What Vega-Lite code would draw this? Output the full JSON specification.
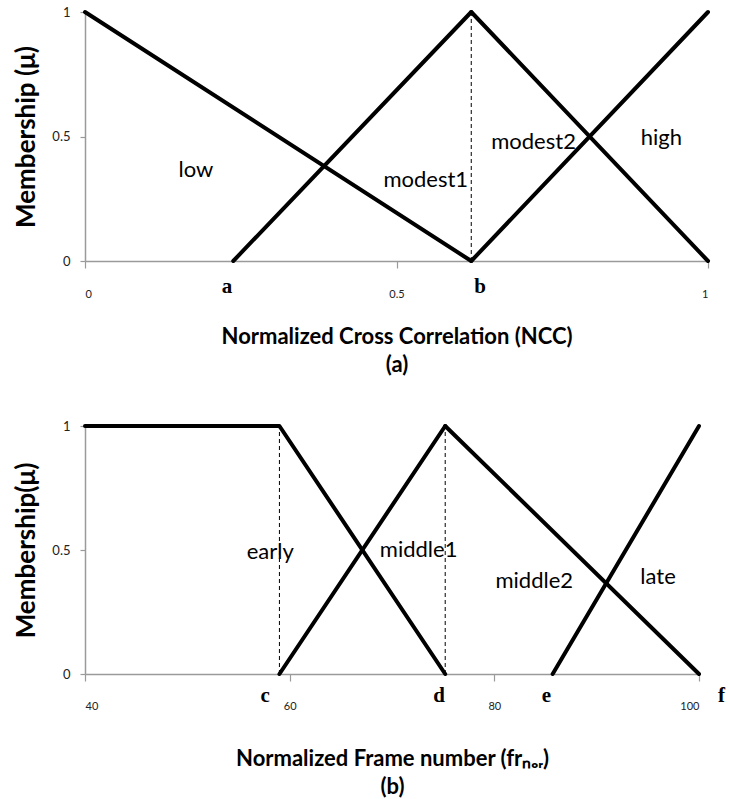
{
  "$schema": "https://vega.github.io/schema/vega-lite/v6.json",
  "background": "white",
  "padding": {"left": 13, "top": 6, "right": 5, "bottom": 5},
  "spacing": 45,
  "config": {
    "view": {"stroke": null},
    "font": "Lato",
    "axis": {
      "grid": false,
      "domainColor": "#9a9a9a",
      "domainWidth": 1.5,
      "tickColor": "#9a9a9a",
      "tickWidth": 1.2,
      "labelFont": "Lato",
      "labelFontSize": 12,
      "labelColor": "#222",
      "titleFont": "Lato",
      "titleFontSize": 22,
      "titleFontWeight": "bold",
      "titleColor": "#000"
    }
  },
  "datasets": {
    "linesA": [
      {"series": "low", "x": 0, "y": 1},
      {"series": "low", "x": 0.62, "y": 0},
      {"series": "modest1", "x": 0.238, "y": 0},
      {"series": "modest1", "x": 0.62, "y": 1},
      {"series": "modest2", "x": 0.62, "y": 1},
      {"series": "modest2", "x": 1, "y": 0},
      {"series": "high", "x": 0.62, "y": 0},
      {"series": "high", "x": 1, "y": 1}
    ],
    "dashA": [{"x": 0.62, "y0": 0, "y1": 1}],
    "labelsA": [
      {"name": "low", "x": 0.178, "y": 0.365},
      {"name": "modest1", "x": 0.547, "y": 0.325},
      {"name": "modest2", "x": 0.72, "y": 0.478},
      {"name": "high", "x": 0.925, "y": 0.494}
    ],
    "lettersA": [
      {"letter": "a", "x": 0.228, "y": 0},
      {"letter": "b", "x": 0.634, "y": 0}
    ],
    "linesB": [
      {"series": "early", "x": 40, "y": 1},
      {"series": "early", "x": 59, "y": 1},
      {"series": "early", "x": 75.2, "y": 0},
      {"series": "middle1", "x": 59, "y": 0},
      {"series": "middle1", "x": 75.2, "y": 1},
      {"series": "middle2", "x": 75.2, "y": 1},
      {"series": "middle2", "x": 100, "y": 0},
      {"series": "late", "x": 85.7, "y": 0},
      {"series": "late", "x": 100, "y": 1}
    ],
    "dashB": [
      {"x": 59, "y0": 0, "y1": 1},
      {"x": 75.2, "y0": 0, "y1": 1}
    ],
    "labelsB": [
      {"name": "early", "x": 58.1, "y": 0.49},
      {"name": "middle1", "x": 72.6, "y": 0.5},
      {"name": "middle2", "x": 83.9, "y": 0.375},
      {"name": "late", "x": 96.0, "y": 0.39}
    ],
    "lettersB": [
      {"letter": "c", "x": 57.6, "y": 0},
      {"letter": "d", "x": 74.6, "y": 0},
      {"letter": "e", "x": 85.1, "y": 0},
      {"letter": "f", "x": 102.2, "y": 0}
    ]
  },
  "vconcat": [
    {
      "width": 623,
      "height": 249,
      "layer": [
        {
          "data": {"name": "dashA"},
          "mark": {"type": "rule", "strokeDash": [4, 3], "strokeWidth": 1, "color": "#000"},
          "encoding": {
            "x": {"field": "x", "type": "quantitative"},
            "y": {"field": "y0", "type": "quantitative"},
            "y2": {"field": "y1"}
          }
        },
        {
          "data": {"name": "linesA"},
          "mark": {"type": "line", "color": "#000", "strokeWidth": 4, "strokeCap": "round", "strokeJoin": "round"},
          "encoding": {
            "x": {
              "field": "x", "type": "quantitative",
              "scale": {"domain": [0, 1], "nice": false, "zero": false},
              "axis": {
                "values": [0, 0.5, 1],
                "format": "~g",
                "tickSize": 7,
                "labelPadding": 20,
                "labelFontSize": 11,
                "title": ["Normalized Cross Correlation (NCC)", "(a)"],
                "titleLineHeight": 28,
                "titlePadding": 27
              }
            },
            "y": {
              "field": "y", "type": "quantitative",
              "scale": {"domain": [0, 1], "nice": false},
              "axis": {
                "values": [0, 0.5, 1],
                "format": "~g",
                "tickSize": 5,
                "labelPadding": 10,
                "labelFontSize": 13,
                "title": "Membership (μ)",
                "titleFontSize": 26,
                "titlePadding": 12
              }
            },
            "detail": {"field": "series"}
          }
        },
        {
          "data": {"name": "labelsA"},
          "mark": {"type": "text", "fontSize": 22, "font": "Lato", "color": "#000"},
          "encoding": {
            "x": {"field": "x", "type": "quantitative"},
            "y": {"field": "y", "type": "quantitative"},
            "text": {"field": "name"}
          }
        },
        {
          "data": {"name": "lettersA"},
          "mark": {"type": "text", "fontSize": 21, "font": "Liberation Serif", "fontWeight": "bold", "color": "#000", "dy": 26, "baseline": "middle", "clip": false},
          "encoding": {
            "x": {"field": "x", "type": "quantitative"},
            "y": {"field": "y", "type": "quantitative"},
            "text": {"field": "letter"}
          }
        }
      ]
    },
    {
      "width": 614,
      "height": 248,
      "layer": [
        {
          "data": {"name": "dashB"},
          "mark": {"type": "rule", "strokeDash": [4, 3], "strokeWidth": 1, "color": "#000"},
          "encoding": {
            "x": {"field": "x", "type": "quantitative"},
            "y": {"field": "y0", "type": "quantitative"},
            "y2": {"field": "y1"}
          }
        },
        {
          "data": {"name": "linesB"},
          "mark": {"type": "line", "color": "#000", "strokeWidth": 4, "strokeCap": "round", "strokeJoin": "round"},
          "encoding": {
            "x": {
              "field": "x", "type": "quantitative",
              "scale": {"domain": [40, 100], "nice": false, "zero": false},
              "axis": {
                "values": [40, 60, 80, 100],
                "tickSize": 7,
                "labelPadding": 19,
                "labelFontSize": 11,
                "title": ["Normalized Frame number (frₙₒᵣ)", "(b)"],
                "titleLineHeight": 28,
                "titlePadding": 37
              }
            },
            "y": {
              "field": "y", "type": "quantitative",
              "scale": {"domain": [0, 1], "nice": false},
              "axis": {
                "values": [0, 0.5, 1],
                "format": "~g",
                "tickSize": 5,
                "labelPadding": 10,
                "labelFontSize": 13,
                "title": "Membership(μ)",
                "titleFontSize": 26,
                "titlePadding": 12
              }
            },
            "detail": {"field": "series"}
          }
        },
        {
          "data": {"name": "labelsB"},
          "mark": {"type": "text", "fontSize": 22, "font": "Lato", "color": "#000"},
          "encoding": {
            "x": {"field": "x", "type": "quantitative"},
            "y": {"field": "y", "type": "quantitative"},
            "text": {"field": "name"}
          }
        },
        {
          "data": {"name": "lettersB"},
          "mark": {"type": "text", "fontSize": 21, "font": "Liberation Serif", "fontWeight": "bold", "color": "#000", "dy": 22, "baseline": "middle", "clip": false},
          "encoding": {
            "x": {"field": "x", "type": "quantitative"},
            "y": {"field": "y", "type": "quantitative"},
            "text": {"field": "letter"}
          }
        }
      ]
    }
  ]
}
